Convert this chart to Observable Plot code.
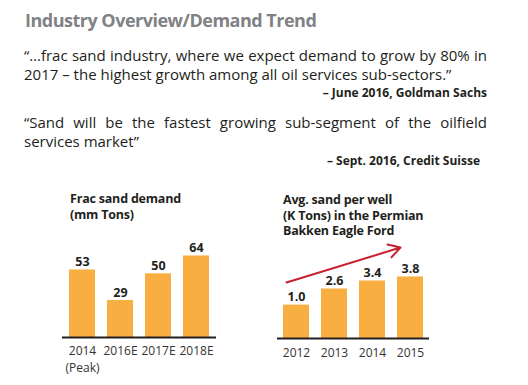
<!DOCTYPE html>
<html>
<head>
<meta charset="utf-8">
<script src="https://cdn.jsdelivr.net/npm/d3@7"></script>
<script src="https://cdn.jsdelivr.net/npm/@observablehq/plot@0.6"></script>
<style>
  html, body { margin: 0; padding: 0; background: #fff; }
  body { width: 528px; height: 385px; position: relative; overflow: hidden; font-family: "Open Sans", "Noto Sans", sans-serif; color: #231f20; }
  .abs { position: absolute; white-space: nowrap; }
  #title { left: 25px; top: 8px; font-size: 18px; line-height: 24px; font-weight: 700; color: #808285; letter-spacing: -0.5px; }
  .q { left: 24px; width: 463px; font-size: 15px; line-height: 18px; letter-spacing: 0px; }
  .just { text-align: justify; text-align-last: justify; white-space: normal; }
  .attr { font-size: 12px; line-height: 13px; font-weight: 700; text-align: right; }
  .ct { font-size: 12.5px; line-height: 16px; font-weight: 700; color: #231f20; letter-spacing: -0.2px; }
  .plot { position: absolute; top: 230px; }
</style>
</head>
<body>
<div id="title" class="abs">Industry Overview/Demand Trend</div>
<div class="abs q just" style="top:46px">“…frac sand industry, where we expect demand to grow by 80% in</div>
<div class="abs q" style="top:65px">2017 – the highest growth among all oil services sub-sectors.”</div>
<div class="abs attr" style="top:86px; right:41px">– June 2016, Goldman Sachs</div>
<div class="abs q just" style="top:113px">“Sand will be the fastest growing sub-segment of the oilfield</div>
<div class="abs q" style="top:132px">services market”</div>
<div class="abs attr" style="top:154px; right:48px">– Sept. 2016, Credit Suisse</div>
<div class="abs ct" style="left:70px; top:191px">Frac sand demand<br>(mm Tons)</div>
<div class="abs ct" style="left:283px; top:192px; line-height:15.5px">Avg. sand per well<br>(K Tons) in the Permian<br>Bakken Eagle Ford</div>
<div id="left" class="plot" style="left:0px"></div>
<div id="right" class="plot" style="left:264px"></div>
<script>
// Chart 1: Frac sand demand (mm Tons)
const demandYears = ["2014", "2016E", "2017E", "2018E"];
const demandNotes = ["(Peak)", "", "", ""];
const demandValues = [53, 29, 50, 64];

// Chart 2: Avg. sand per well (K Tons)
const wellYears = ["2012", "2013", "2014", "2015"];
const wellValues = [1.0, 2.6, 3.4, 3.8];
const wellLabels = ["1.0", "2.6", "3.4", "3.8"];

// Trend arrow annotation (in chart-2 units)
const arrowFrom = {year: "2012", value: 3.25};
const arrowTo = {year: "2015", value: 6.73};

const barColor = "#f9ae42";
const font = "'Open Sans', 'Noto Sans', sans-serif";

const demand = demandYears.map((y, i) => ({year: y, value: demandValues[i], note: demandNotes[i]}));
const well = wellYears.map((y, i) => ({year: y, value: wellValues[i], label: wellLabels[i]}));

const leftBase = 0;
const left = Plot.plot({
  width: 250, height: 150,
  marginLeft: 62, marginRight: 34, marginTop: 0, marginBottom: 43,
  style: {fontSize: "12px", fontFamily: font, color: "#333", background: "transparent", overflow: "visible"},
  x: {domain: demandYears, paddingInner: 0.325, paddingOuter: 0.1625, tickSize: 0, tickPadding: 9, label: null},
  y: {domain: [leftBase, 84], axis: null},
  marks: [
    Plot.barY(demand, {x: "year", y1: leftBase, y2: "value", fill: barColor}),
    Plot.text(demand, {x: "year", y: "value", text: d => String(d.value), dy: -8, fontWeight: 700, fontSize: 12.5, fill: "#231f20"}),
    Plot.text(demand.filter(d => d.note), {x: "year", y: leftBase, text: "note", dy: 31, fontSize: 12, fill: "#333"}),
    Plot.ruleY([leftBase], {stroke: "#231f20", strokeWidth: 2})
  ]
});
document.getElementById("left").appendChild(left);

const rightBase = -2.33;
const right = Plot.plot({
  width: 264, height: 150,
  marginLeft: 13, marginRight: 99, marginTop: 0, marginBottom: 42,
  style: {fontSize: "12px", fontFamily: font, color: "#333", background: "transparent", overflow: "visible"},
  x: {domain: wellYears, paddingInner: 0.32, paddingOuter: 0.144, tickSize: 0, tickPadding: 10, label: null},
  y: {domain: [rightBase, 8.43], axis: null},
  marks: [
    Plot.barY(well, {x: "year", y1: rightBase, y2: "value", fill: barColor}),
    Plot.text(well, {x: "year", y: "value", text: "label", dy: -8, fontWeight: 700, fontSize: 12.5, fill: "#231f20"}),
    Plot.ruleY([rightBase], {stroke: "#231f20", strokeWidth: 2}),
    Plot.arrow([{x1: arrowFrom.year, y1: arrowFrom.value, x2: arrowTo.year, y2: arrowTo.value}],
      {x1: "x1", y1: "y1", x2: "x2", y2: "y2", dx: -10, stroke: "#c8202f", strokeWidth: 2, headLength: 10})
  ]
});
document.getElementById("right").appendChild(right);
</script>
</body>
</html>
